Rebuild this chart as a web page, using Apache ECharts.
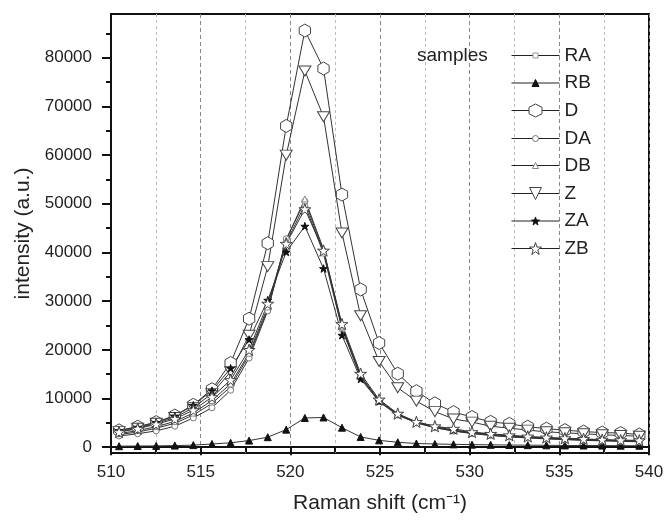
<!DOCTYPE html>
<html>
<head>
<meta charset="utf-8">
<script src="https://cdn.jsdelivr.net/npm/echarts@6/dist/echarts.min.js"></script>
<style>
html,body{margin:0;padding:0;background:#fff;}
#chart{width:667px;height:522px;}
</style>
</head>
<body>
<div id="chart"></div>
<script>
// Raman shift (cm^-1) sample positions
const ramanShift = [510.45, 511.49, 512.52, 513.56, 514.59, 515.63, 516.67, 517.70, 518.74, 519.77,
  520.81, 521.85, 522.88, 523.92, 524.95, 525.99, 527.03, 528.06, 529.10, 530.13,
  531.17, 532.21, 533.24, 534.28, 535.31, 536.35, 537.39, 538.42, 539.46];

const seriesNames = ['RA', 'RB', 'D', 'DA', 'DB', 'Z', 'ZA', 'ZB'];

const RA = [2600, 3100, 3900, 4900, 6600, 9000, 12400, 18900, 28300, 42000,
  49800, 39800, 24300, 14400, 9300, 6600, 5000, 4000, 3350, 2850,
  2450, 2150, 1950, 1750, 1600, 1450, 1350, 1250, 1150];
const RB = [200, 230, 260, 320, 420, 650, 900, 1350, 2050, 3600,
  6000, 6100, 4000, 2100, 1400, 1000, 750, 650, 580, 520,
  480, 440, 410, 380, 360, 340, 320, 300, 290];
const D = [3450, 4200, 5150, 6500, 8700, 11900, 17300, 26400, 41900, 66000,
  85600, 77800, 51900, 32400, 21400, 15100, 11500, 9000, 7200, 6200,
  5200, 4800, 4200, 3800, 3500, 3200, 3000, 2900, 2600];
const DA = [2300, 2750, 3350, 4300, 6000, 8100, 11700, 18300, 28000, 42800,
  50500, 40300, 24600, 14500, 9400, 6600, 5000, 4000, 3300, 2800,
  2400, 2100, 1900, 1700, 1550, 1400, 1300, 1200, 1100];
const DB = [2800, 3400, 4200, 5300, 7000, 9600, 13000, 19300, 28800, 42500,
  51000, 40700, 24900, 14700, 9600, 6800, 5100, 4200, 3500, 3000,
  2600, 2300, 2050, 1850, 1700, 1550, 1450, 1350, 1250];
const Z = [3200, 3900, 4900, 6100, 8100, 11000, 15500, 23000, 37100, 60000,
  77300, 67900, 44000, 27000, 17600, 12200, 9450, 7300, 5800, 5150,
  4300, 3900, 3500, 3150, 2950, 2750, 2550, 2400, 2250];
const ZA = [3400, 4100, 5100, 6400, 8600, 11600, 16200, 22100, 30200, 40100,
  45400, 36700, 23000, 14000, 9400, 6700, 5100, 4200, 3500, 3000,
  2600, 2300, 2100, 1900, 1750, 1600, 1450, 1350, 1300];
const ZB = [3100, 3800, 4700, 5800, 7600, 10300, 13800, 20000, 29500, 41800,
  48900, 40400, 25300, 15100, 9800, 6900, 5200, 4300, 3800, 3100,
  2750, 2450, 2200, 2000, 1850, 1700, 1550, 1450, 1400];

const xTicks = [510, 515, 520, 525, 530, 535, 540];
const yTickLabels = [0, 10000, 20000, 30000, 40000, 50000, 60000, 70000, 80000];
const yMinorTicks = [5000, 15000, 25000, 35000, 45000, 55000, 65000, 75000, 85000];

const seriesValues = { RA, RB, D, DA, DB, Z, ZA, ZB };

const HEX = 'path://M0,-1 L0.866,-0.5 L0.866,0.5 L0,1 L-0.866,0.5 L-0.866,-0.5 Z';
const STAR = 'path://M0,-1 L0.2245,-0.309 L0.9511,-0.309 L0.3633,0.118 L0.5878,0.809 L0,0.382 L-0.5878,0.809 L-0.3633,0.118 L-0.9511,-0.309 L-0.2245,-0.309 Z';

const styles = {
  RA: { symbol: 'rect', size: 5, fill: '#fff', border: '#999', rotate: 0 },
  RB: { symbol: 'triangle', size: 7, fill: '#111', border: '#111', rotate: 0 },
  D:  { symbol: HEX, size: 13, fill: '#fff', border: '#444', rotate: 0 },
  DA: { symbol: 'circle', size: 6, fill: '#fff', border: '#777', rotate: 0 },
  DB: { symbol: 'triangle', size: 6, fill: '#fff', border: '#888', rotate: 0 },
  Z:  { symbol: 'triangle', size: [12, 10], fill: '#fff', border: '#444', rotate: 180, lsize: 12 },
  ZA: { symbol: STAR, size: 8, fill: '#111', border: '#111', rotate: 0 },
  ZB: { symbol: STAR, size: 12, fill: '#fff', border: '#444', rotate: 0 }
};

const FONT = '"Liberation Sans", Arial, Helvetica, sans-serif';

const series = seriesNames.map(name => {
  const st = styles[name];
  return {
    name: name,
    type: 'line',
    data: ramanShift.map((x, i) => [x, seriesValues[name][i]]),
    symbol: st.symbol,
    symbolSize: st.size,
    symbolRotate: st.rotate,
    symbolKeepAspect: true,
    showSymbol: true,
    lineStyle: { color: '#333', width: 1 },
    itemStyle: { color: st.fill, borderColor: st.border, borderWidth: 1 },
    emphasis: { disabled: true },
    z: 2
  };
});

const legendRowsY = [56, 83.5, 111, 139, 166, 194, 221.5, 249];
const legends = seriesNames.map((name, i) => {
  const st = styles[name];
  const s = st.lsize || (Array.isArray(st.size) ? st.size[0] : st.size);
  return {
    data: [name],
    left: 511,
    top: legendRowsY[i] - 10,
    padding: 0,
    itemWidth: 48,
    itemHeight: s / 0.8,
    selectedMode: false,
    itemStyle: { borderWidth: 1 },
    lineStyle: { color: '#222', width: 1 },
    textStyle: { fontSize: 19, color: '#222', fontFamily: FONT }
  };
});

const chart = echarts.init(document.getElementById('chart'), null, { renderer: 'canvas' });
chart.setOption({
  animation: false,
  backgroundColor: '#fff',
  title: {
    text: 'samples',
    left: 417,
    top: 46,
    padding: 0,
    textStyle: { fontSize: 19, fontWeight: 'normal', color: '#222', fontFamily: FONT }
  },
  legend: legends,
  grid: {
    left: 111, right: 18, top: 14, bottom: 69,
    show: true, borderColor: '#111', borderWidth: 2, backgroundColor: 'transparent'
  },
  xAxis: {
    type: 'value',
    min: 510, max: 540, interval: 5,
    name: 'Raman shift (cm⁻¹)',
    nameLocation: 'middle',
    nameGap: 40,
    nameTextStyle: { fontSize: 21, color: '#222', fontFamily: FONT },
    axisLine: { show: true, lineStyle: { color: '#111', width: 2 } },
    axisTick: { show: true, inside: false, length: 8, lineStyle: { color: '#111', width: 2 } },
    minorTick: { show: true, splitNumber: 2, length: 5, lineStyle: { color: '#111', width: 2 } },
    splitLine: { show: true, lineStyle: { type: [4, 3], color: '#888', width: 1 } },
    minorSplitLine: { show: true, lineStyle: { type: [3, 3], color: '#bbb', width: 1 } },
    axisLabel: { fontSize: 17, color: '#222', margin: 11, fontFamily: FONT,
      customValues: xTicks, formatter: v => String(v) }
  },
  yAxis: [{
    type: 'value',
    min: -1200, max: 89000,
    position: 'left',
    name: 'intensity (a.u.)',
    nameLocation: 'middle',
    nameGap: 69,
    nameTextStyle: { fontSize: 21, color: '#222', fontFamily: FONT },
    axisLine: { show: true, lineStyle: { color: '#111', width: 2 } },
    axisTick: { show: true, inside: false, length: 9, lineStyle: { color: '#111', width: 2 },
      customValues: yTickLabels },
    splitLine: { show: false },
    axisLabel: { fontSize: 17, color: '#222', margin: 19, fontFamily: FONT,
      customValues: yTickLabels, formatter: v => String(v) }
  }, {
    type: 'value',
    min: -1200, max: 89000,
    position: 'left',
    axisLine: { show: false },
    axisTick: { show: true, inside: false, length: 5, lineStyle: { color: '#111', width: 2 },
      customValues: yMinorTicks },
    axisLabel: { show: false },
    splitLine: { show: false }
  }],
  series: series
});
</script>
</body>
</html>
